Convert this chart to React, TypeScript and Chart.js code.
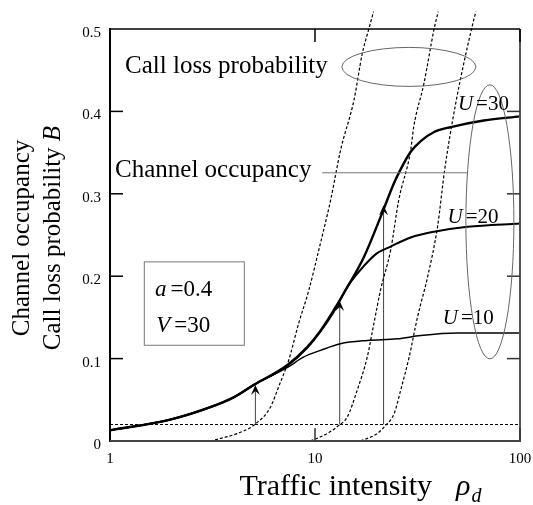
import React, { useEffect, useRef } from 'react';
import { Chart, registerables } from 'chart.js';

Chart.register(...registerables);

// ---- axis ticks ----
const X_TICKS = [1, 10, 100];
const Y_TICKS = [0, 0.1, 0.2, 0.3, 0.4, 0.5];

// ---- call loss probability curves (dashed) ----
const lossU10X = [3.08, 4.17, 5.02, 6.06, 6.65, 7.44, 8.33, 9.33, 10.44, 11.91, 13.33, 15.5, 17.0, 18.3, 19.3];
const lossU10Y = [0.0, 0.009, 0.019, 0.041, 0.066, 0.098, 0.143, 0.183, 0.232, 0.292, 0.353, 0.414, 0.47, 0.5, 0.521];

const lossU20X = [9.51, 11.47, 13.07, 14.36, 16.08, 17.99, 19.39, 20.87, 23.4, 25.6, 29.3, 30.3, 34.0, 38.1, 39.9];
const lossU20Y = [0.0, 0.009, 0.019, 0.029, 0.062, 0.102, 0.143, 0.183, 0.232, 0.292, 0.353, 0.381, 0.434, 0.5, 0.521];

const lossU30X = [16.7, 20.1, 22.1, 24.3, 26.2, 28.8, 31.6, 35.4, 39.6, 42.9, 48.6, 58.0, 60.9];
const lossU30Y = [0.0, 0.009, 0.019, 0.033, 0.062, 0.102, 0.15, 0.199, 0.26, 0.329, 0.41, 0.5, 0.521];

// ---- channel occupancy curves (solid) ----
const occU10X = [1, 1.97, 3.08, 4.01, 5.02, 7.31, 8.82, 10.64, 13.3, 18.0, 25.2, 32.8, 49.6, 100];
const occU10Y = [0.013, 0.026, 0.041, 0.053, 0.068, 0.089, 0.102, 0.11, 0.118, 0.122, 0.124, 0.128, 0.131, 0.131];

const occU20X = [1, 1.97, 3.08, 4.01, 5.02, 7.31, 9.16, 10.64, 12.36, 13.07, 14.35, 16.08, 18.0, 20.1, 23.4, 29.3, 38.1, 55.5, 100];
const occU20Y = [0.013, 0.026, 0.041, 0.053, 0.068, 0.091, 0.113, 0.133, 0.157, 0.168, 0.187, 0.203, 0.217, 0.228, 0.236, 0.247, 0.254, 0.26, 0.264];

const occU30X = [1, 1.97, 3.08, 4.01, 5.02, 7.31, 9.16, 10.64, 12.36, 13.8, 17.3, 20.9, 24.3, 26.2, 29.3, 32.8, 38.1, 46.0, 66.6, 100];
const occU30Y = [0.013, 0.026, 0.041, 0.053, 0.068, 0.092, 0.114, 0.134, 0.159, 0.179, 0.223, 0.272, 0.313, 0.33, 0.351, 0.364, 0.375, 0.381, 0.389, 0.394];

// ---- target loss level and arrows ----
const targetLoss = 0.02;
const arrowX = [5.12, 13.2, 21.6];
const arrowTipY = [0.068, 0.17, 0.286];

// ---- annotation texts ----
const uLabels = ['30', '20', '10'];

const SERIF = '"Liberation Serif", "Times New Roman", serif';

const pts = (xs: number[], ys: number[]) => xs.map((v, i) => ({ x: v, y: ys[i] }));

const annotPlugin = {
  id: 'annot',
  afterDatasetsDraw(chart: any) {
    const { ctx, chartArea: a, scales } = chart;
    const xs = scales.x;
    const ys = scales.y;
    const X = (v: number) => xs.getPixelForValue(v);
    const Y = (v: number) => ys.getPixelForValue(v);

    const seg = (x1: number, y1: number, x2: number, y2: number, color: string, w: number) => {
      ctx.beginPath();
      ctx.strokeStyle = color;
      ctx.lineWidth = w;
      ctx.setLineDash([]);
      ctx.moveTo(x1, y1);
      ctx.lineTo(x2, y2);
      ctx.stroke();
    };

    ctx.save();

    // frame
    seg(a.left, a.top - 1, a.left, a.bottom + 1, '#000', 2);
    seg(a.left, a.top, a.right, a.top, '#000', 1.5);
    seg(a.left, a.bottom, a.right + 1, a.bottom, '#444', 2);
    seg(a.right, a.top, a.right, a.bottom, '#555', 2);

    // inward ticks
    const TL = 13;
    Y_TICKS.slice(1, 5).forEach((v) => {
      seg(a.left, Y(v), a.left + TL, Y(v), '#000', 1.5);
      seg(a.right - TL, Y(v), a.right, Y(v), '#333', 1.5);
    });
    [10, 100].forEach((v) => {
      seg(X(v), a.bottom, X(v), a.bottom - TL, '#333', 1.5);
      seg(X(v), a.top, X(v), a.top + TL, '#000', 1.5);
    });

    // arrowheads
    ctx.fillStyle = '#000';
    arrowX.forEach((v, i) => {
      const px = X(v);
      const py = Y(arrowTipY[i]);
      ctx.beginPath();
      ctx.moveTo(px, py);
      ctx.lineTo(px - 4.5, py + 10);
      ctx.lineTo(px, py + 6);
      ctx.lineTo(px + 4.5, py + 10);
      ctx.closePath();
      ctx.fill();
    });

    // ellipses
    ctx.strokeStyle = '#666';
    ctx.lineWidth = 1;
    ctx.setLineDash([]);
    ctx.beginPath();
    ctx.ellipse(X(28.7), Y(0.454), 67, 19.5, 0, 0, Math.PI * 2);
    ctx.stroke();
    ctx.beginPath();
    ctx.ellipse(X(71.3), Y(0.266), 24, 137, 0, 0, Math.PI * 2);
    ctx.stroke();

    // connector line
    seg(X(10.84), Y(0.3255), X(55.5), Y(0.3255), '#777', 1);

    // texts
    ctx.fillStyle = '#000';
    ctx.textBaseline = 'alphabetic';
    ctx.textAlign = 'left';
    ctx.font = `25px ${SERIF}`;
    ctx.fillText('Call loss probability', X(1.184), Y(0.447));
    ctx.fillText('Channel occupancy', X(1.058), Y(0.3206));

    // U labels
    const uPos = [
      [49.8, 0.4016],
      [44.3, 0.264],
      [42.0, 0.1417],
    ];
    uLabels.forEach((lab, i) => {
      const px = X(uPos[i][0]);
      const py = Y(uPos[i][1]);
      ctx.font = `italic 21px ${SERIF}`;
      ctx.fillText('U', px, py);
      const w = ctx.measureText('U').width;
      ctx.font = `21px ${SERIF}`;
      ctx.fillText('=' + lab, px + w + 3, py);
    });

    // parameter box
    const bx1 = X(1.47), bx2 = X(4.52), by1 = Y(0.2174), by2 = Y(0.1162);
    ctx.strokeStyle = '#777';
    ctx.lineWidth = 1;
    ctx.strokeRect(bx1, by1, bx2 - bx1, by2 - by1);
    const param = (sym: string, val: string, xv: number, yv: number) => {
      const px = X(xv), py = Y(yv);
      ctx.font = `italic 23px ${SERIF}`;
      ctx.fillText(sym, px, py);
      const w = ctx.measureText(sym).width;
      ctx.font = `23px ${SERIF}`;
      ctx.fillText('=' + val, px + w + 4, py);
    };
    param('a', '0.4', 1.66, 0.1757);
    param('V', '30', 1.68, 0.1324);

    // x axis title
    ctx.font = `30px ${SERIF}`;
    ctx.textAlign = 'right';
    ctx.fillText('Traffic intensity', 432, 495);
    ctx.textAlign = 'left';
    ctx.font = `italic 30px ${SERIF}`;
    ctx.fillText('\u03C1', 456, 495);
    const rw = ctx.measureText('\u03C1').width;
    ctx.font = `italic 20px ${SERIF}`;
    ctx.fillText('d', 456 + rw + 1, 502);

    // y axis title
    ctx.save();
    ctx.translate(0, (a.top + a.bottom) / 2 + 3);
    ctx.rotate(-Math.PI / 2);
    ctx.textAlign = 'center';
    ctx.font = `25px ${SERIF}`;
    ctx.fillText('Channel occupancy', 0, 29);
    const t2 = 'Call loss probability ';
    ctx.font = `25px ${SERIF}`;
    const w2 = ctx.measureText(t2).width;
    ctx.font = `italic 25px ${SERIF}`;
    const wb = ctx.measureText('B').width;
    const start = -(w2 + wb) / 2;
    ctx.textAlign = 'left';
    ctx.font = `25px ${SERIF}`;
    ctx.fillText(t2, start, 60);
    ctx.font = `italic 25px ${SERIF}`;
    ctx.fillText('B', start + w2, 60);
    ctx.restore();

    ctx.restore();
  },
};

export default function App() {
  const ref = useRef<HTMLCanvasElement>(null);

  useEffect(() => {
    const canvas = ref.current;
    if (!canvas) return;

    const dashed = (data: any[]) => ({
      data,
      borderColor: '#000',
      borderWidth: 1.2,
      borderDash: [3, 2],
      pointRadius: 0,
      fill: false,
      clip: false as any,
      cubicInterpolationMode: 'monotone' as const,
    });
    const solid = (data: any[], w: number) => ({
      data,
      borderColor: '#000',
      borderWidth: w,
      pointRadius: 0,
      fill: false,
      clip: false as any,
      cubicInterpolationMode: 'monotone' as const,
    });

    const arrowSets = arrowX.map((v, i) => ({
      data: [
        { x: v, y: targetLoss },
        { x: v, y: arrowTipY[i] - 0.006 },
      ],
      borderColor: '#444',
      borderWidth: 1,
      pointRadius: 0,
      fill: false,
      tension: 0,
    }));

    const chart = new Chart(canvas, {
      type: 'line',
      data: {
        datasets: [
          dashed(pts(lossU10X, lossU10Y)),
          dashed(pts(lossU20X, lossU20Y)),
          dashed(pts(lossU30X, lossU30Y)),
          { ...dashed([{ x: 1, y: targetLoss }, { x: 100, y: targetLoss }]), cubicInterpolationMode: 'default' as const },
          solid(pts(occU10X, occU10Y), 1.5),
          solid(pts(occU20X, occU20Y), 2),
          solid(pts(occU30X, occU30Y), 2.4),
          ...arrowSets,
        ] as any,
      },
      options: {
        responsive: false,
        animation: false,
        devicePixelRatio: 1,
        layout: { padding: { top: 29, right: 13, left: 0, bottom: 0 } },
        plugins: {
          legend: { display: false },
          tooltip: { enabled: false },
        },
        scales: {
          x: {
            type: 'logarithmic',
            min: 1,
            max: 100,
            grid: { display: false, drawTicks: false },
            border: { display: false },
            afterBuildTicks: (scale: any) => {
              scale.ticks = X_TICKS.map((v) => ({ value: v }));
            },
            afterFit: (scale: any) => {
              scale.height = 64;
              scale.paddingLeft = 0;
              scale.paddingRight = 0;
            },
            ticks: {
              color: '#000',
              font: { family: SERIF, size: 15 },
              padding: 9,
              maxRotation: 0,
              autoSkip: false,
              callback: (v: any) => String(v),
            },
          },
          y: {
            type: 'linear',
            min: 0,
            max: 0.5,
            grid: { display: false, drawTicks: false },
            border: { display: false },
            afterBuildTicks: (scale: any) => {
              scale.ticks = Y_TICKS.map((v) => ({ value: v }));
            },
            afterFit: (scale: any) => {
              scale.width = 110;
              scale.paddingTop = 0;
              scale.paddingBottom = 0;
            },
            ticks: {
              color: '#000',
              font: { family: SERIF, size: 15 },
              padding: 9,
              labelOffset: 4,
              callback: (v: any) => (v === 0 ? '0' : Number(v).toFixed(1)),
            },
          },
        },
      } as any,
      plugins: [annotPlugin],
    });

    return () => chart.destroy();
  }, []);

  return (
    <div style={{ position: 'absolute', left: 0, top: 0, width: 533, height: 505 }}>
      <canvas ref={ref} width={533} height={505} style={{ display: 'block', width: 533, height: 505 }} />
    </div>
  );
}
